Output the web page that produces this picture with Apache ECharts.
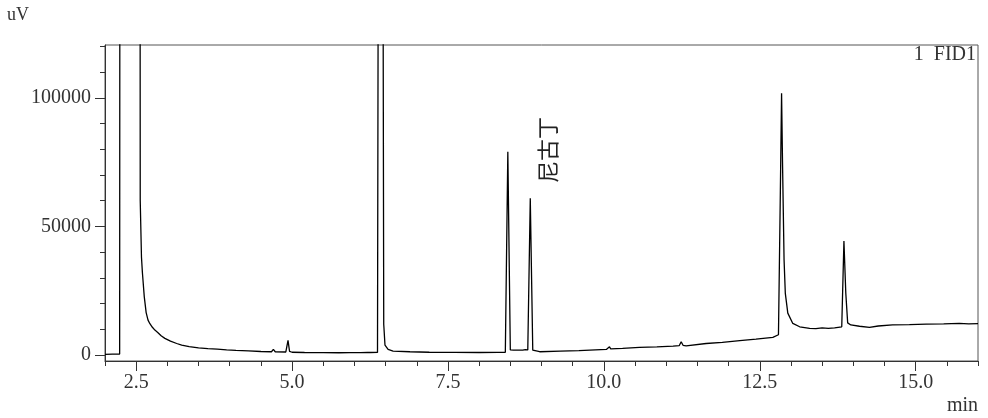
<!DOCTYPE html>
<html>
<head>
<meta charset="utf-8">
<script src="https://cdn.jsdelivr.net/npm/echarts@6/dist/echarts.min.js"></script>
<style>
html,body{margin:0;padding:0;background:#fff;}
#chart{width:988px;height:418px;}
</style>
</head>
<body>
<div id="chart"></div>
<script>
// Retention time (min)
const times = [
  2.00, 2.12, 2.235, 2.245, 2.555, 2.565, 2.585, 2.60, 2.63, 2.66, 2.69, 2.72, 2.76, 2.80, 2.85, 2.90, 2.96,
  3.05, 3.15, 3.23, 3.35, 3.50, 3.65, 3.80, 3.95, 4.10, 4.30, 4.50, 4.67, 4.70, 4.73, 4.90, 4.915, 4.935, 4.96,
  5.00, 5.20, 5.45, 5.47, 5.50, 5.75, 5.93, 5.95, 5.97, 6.10, 6.21, 6.23, 6.25, 6.37, 6.385, 6.455, 6.47,
  6.49, 6.54, 6.62, 6.89, 7.20, 7.60, 8.00, 8.30, 8.42, 8.43, 8.46, 8.50, 8.52, 8.55, 8.70, 8.74, 8.76, 8.78,
  8.82, 8.86, 8.88, 8.97, 9.30, 9.60, 10.04, 10.07, 10.09, 10.11, 10.30, 10.57, 10.85, 11.11, 11.21, 11.24,
  11.27, 11.32, 11.64, 11.90, 12.18, 12.44, 12.71, 12.80, 12.83, 12.85, 12.865, 12.89, 12.91, 12.95, 13.03,
  13.14, 13.22, 13.30, 13.40, 13.50, 13.60, 13.70, 13.815, 13.85, 13.88, 13.91, 13.96, 14.10, 14.26, 14.40,
  14.63, 14.90, 15.17, 15.45, 15.70, 15.85, 16.00
];
// Detector signal (uV)
const signal = [
  300, 350, 400, 500000, 500000, 60000, 38000, 32000, 22600, 16500, 13600, 12200, 10800, 9700, 8700, 7500, 6500,
  5400, 4500, 3900, 3300, 2800, 2500, 2300, 2000, 1800, 1600, 1400, 1300, 2200, 1300, 1200, 1500, 5700, 1400,
  1100, 1000, 950, 1400, 950, 900, 950, 1300, 950, 950, 1000, 1300, 1000, 1050, 200000, 200000, 12000,
  3900, 2200, 1550, 1300, 1100, 1050, 1000, 1050, 1100, 1300, 79000, 2000, 1900, 1900, 1900, 2100, 2600, 2000,
  60900, 1900, 1600, 1300, 1550, 1750, 2200, 2300, 3200, 2400, 2600, 3000, 3200, 3500, 3700, 5200,
  3800, 3600, 4500, 4900, 5600, 6200, 6900, 7900, 62800, 101700, 75000, 37000, 24000, 16300, 12300,
  11000, 10700, 10400, 10300, 10600, 10400, 10600, 11000, 44300, 24000, 12500, 11700, 11200, 10800, 11300,
  11700, 11800, 12000, 12100, 12300, 12100, 12200
];
// Axis ticks
const xMajorTicks = [2.5, 5.0, 7.5, 10.0, 12.5, 15.0];
const yMajorTicks = [0, 50000, 100000];
const yMinorTicks = [0, 10000, 20000, 30000, 40000, 50000, 60000, 70000, 80000, 90000, 100000, 110000, 120000];
// Peak annotation
const peakNames = ['尼古丁'];
const peakLabelPos = [[9.10, 79700]];

const data = times.map((t, i) => [t, signal[i]]);
const serif = '"Liberation Serif", "DejaVu Serif", serif';
const axisColor = '#333';

const chart = echarts.init(document.getElementById('chart'), null, {renderer: 'canvas'});
chart.setOption({
  animation: false,
  backgroundColor: '#fff',
  grid: {left: 105, right: 10, top: 45, bottom: 57, show: true, borderColor: '#555', borderWidth: 1, backgroundColor: 'transparent'},
  xAxis: [
    {
      type: 'value', min: 2, max: 16, position: 'bottom',
      axisLine: {show: true, onZero: false, lineStyle: {color: axisColor, width: 1}},
      axisTick: {show: true, length: 10, customValues: xMajorTicks, lineStyle: {color: axisColor}},
      axisLabel: {customValues: xMajorTicks, formatter: v => v.toFixed(1), fontFamily: serif, fontSize: 20, color: '#333', margin: 12},
      splitLine: {show: false}
    },
    {
      type: 'value', min: 2, max: 16, interval: 0.5, position: 'bottom',
      axisLine: {show: false, onZero: false},
      axisTick: {show: true, length: 5, lineStyle: {color: axisColor}},
      axisLabel: {show: false},
      splitLine: {show: false}
    }
  ],
  yAxis: [
    {
      type: 'value', min: -2300, max: 120500, position: 'left',
      axisLine: {show: true, onZero: false, lineStyle: {color: axisColor, width: 1}},
      axisTick: {show: true, length: 10, customValues: yMajorTicks, lineStyle: {color: axisColor}},
      axisLabel: {customValues: yMajorTicks, formatter: v => String(Math.round(v)), fontFamily: serif, fontSize: 20, color: '#333', margin: 14},
      splitLine: {show: false}
    },
    {
      type: 'value', min: -2300, max: 120500, position: 'left',
      axisLine: {show: false, onZero: false},
      axisTick: {show: true, length: 5, customValues: yMinorTicks, lineStyle: {color: axisColor}},
      axisLabel: {show: false},
      splitLine: {show: false}
    }
  ],
  series: [{
    type: 'line',
    xAxisIndex: 0, yAxisIndex: 0,
    data: data,
    symbol: 'none',
    showSymbol: false,
    clip: true,
    lineStyle: {color: '#000', width: 1.3},
    markPoint: {
      symbol: 'circle', symbolSize: 0,
      data: peakNames.map((n, i) => ({
        coord: peakLabelPos[i], value: n,
        label: {show: true, formatter: n, rotate: 90, position: 'inside', fontFamily: '"Noto Sans CJK SC", sans-serif', fontSize: 22, color: '#222'}
      }))
    }
  }],
  graphic: [
    {type: 'text', left: 7, top: 6, style: {text: 'uV', font: '18px ' + serif, fill: '#333'}},
    {type: 'text', right: 10, top: 396, style: {text: 'min', font: '20px ' + serif, fill: '#333'}},
    {type: 'text', right: 12, top: 45, style: {text: '1  FID1', font: '20px ' + serif, fill: '#333'}}
  ]
});
</script>
</body>
</html>
